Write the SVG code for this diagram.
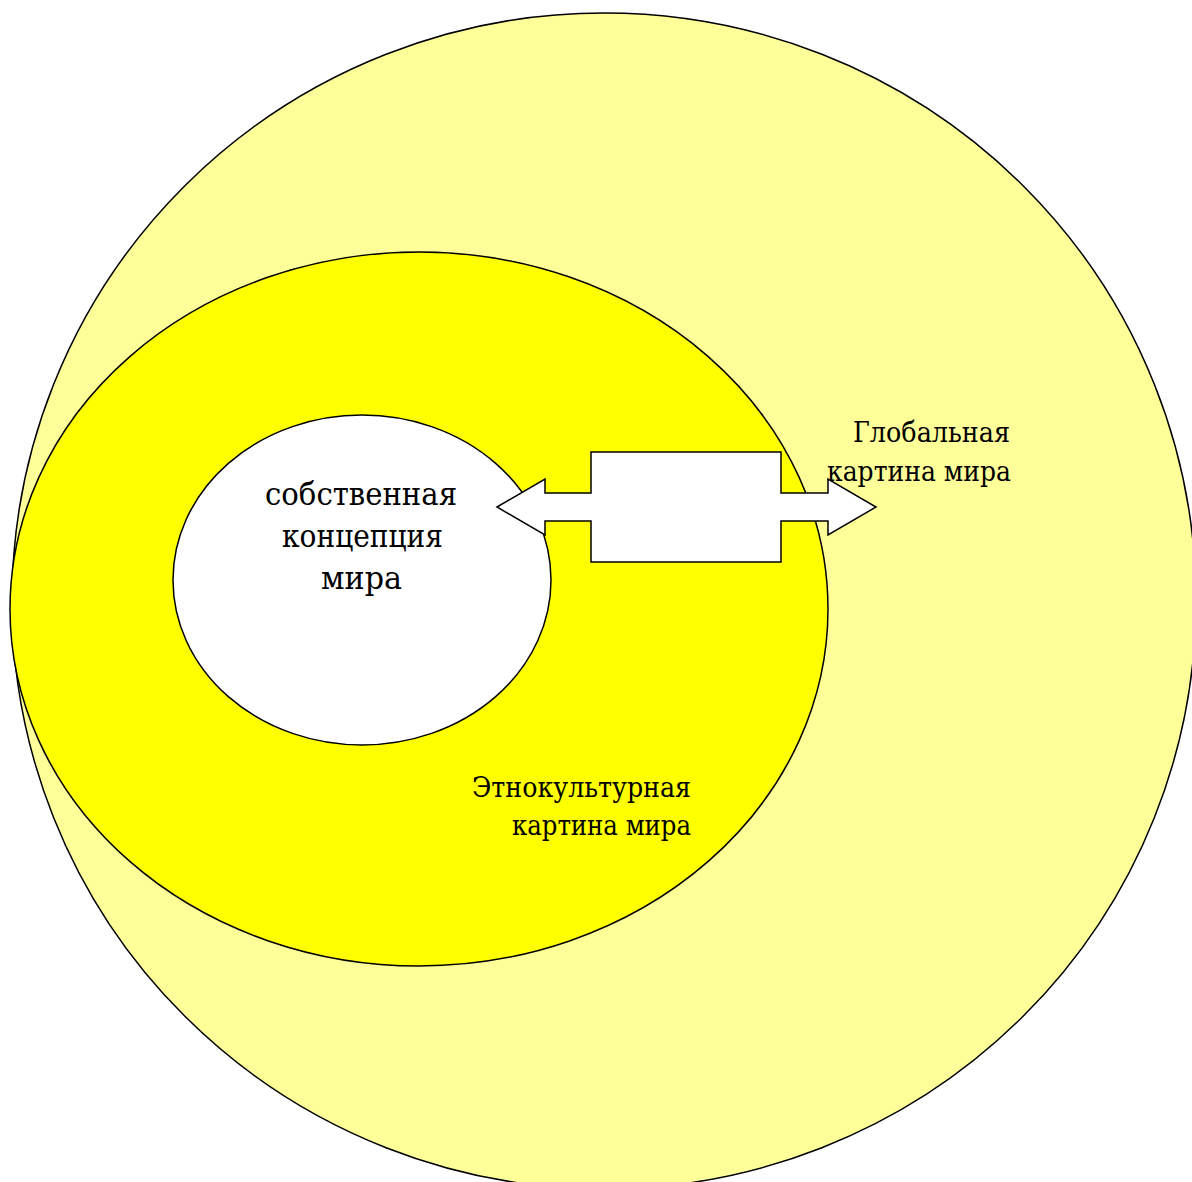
<svg xmlns="http://www.w3.org/2000/svg" width="1192" height="1182" viewBox="0 0 1192 1182">
<style>
.shape{stroke:#000;stroke-width:1.5}
.lbl{font-family:'DejaVu Serif','Liberation Serif','Times New Roman',serif;fill:#000}
</style>
<rect width="1192" height="1182" fill="#fff"/>
<g id="global">
<ellipse class="shape" cx="604" cy="601" rx="592" ry="588" fill="#FFFF99"/>
<text class="lbl" font-size="27"><tspan x="853" y="442" textLength="157" lengthAdjust="spacingAndGlyphs">Глобальная</tspan><tspan x="827" y="481" textLength="184" lengthAdjust="spacingAndGlyphs">картина мира</tspan></text>
</g>
<g id="ethno">
<ellipse class="shape" cx="419" cy="609" rx="409" ry="357" fill="#FFFF00"/>
<text class="lbl" font-size="27"><tspan x="472" y="797" textLength="219" lengthAdjust="spacingAndGlyphs">Этнокультурная</tspan><tspan x="512" y="835" textLength="179" lengthAdjust="spacingAndGlyphs">картина мира</tspan></text>
</g>
<g id="own">
<ellipse class="shape" cx="362" cy="580" rx="189" ry="165" fill="#fff"/>
<text class="lbl" font-size="32"><tspan x="265" y="505" textLength="192" lengthAdjust="spacingAndGlyphs">собственная</tspan><tspan x="282" y="547" textLength="161" lengthAdjust="spacingAndGlyphs">концепция</tspan><tspan x="321" y="589" textLength="81" lengthAdjust="spacingAndGlyphs">мира</tspan></text>
</g>
<g id="connectors">
<path class="shape" fill="#fff" stroke-linejoin="miter" d="M497,507 L545,479 L545,493 L591,493 L591,452 L781,452 L781,493 L828,493 L828,479 L876,507 L828,535 L828,521 L781,521 L781,562 L591,562 L591,521 L545,521 L545,535 Z"/>
</g>
</svg>
